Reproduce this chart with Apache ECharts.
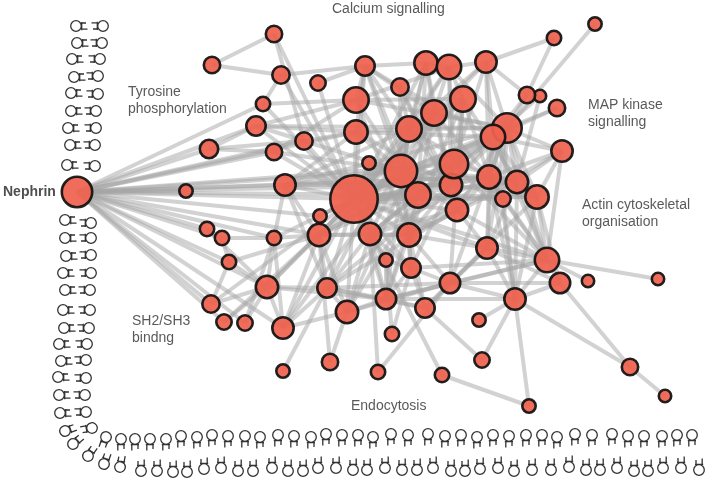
<!DOCTYPE html>
<html><head><meta charset="utf-8">
<style>html,body{margin:0;padding:0;background:#fff}#c{width:708px;height:481px}</style>
<script src="https://cdn.jsdelivr.net/npm/echarts@6/dist/echarts.min.js"></script>
</head><body><div id="c"></div>
<script>
const nodeX=[77,274,212,281,318,365,356,400,426,449,463,434,409,356,263,256,304,274,285,369,401,418,451,454,457,354,320,319,370,409,274,595,554,486,540,527,557,507,493,562,489,517,503,537,209,186,207,222,229,211,224,245,386,411,450,267,327,347,386,425,283,392,330,283,378,442,487,547,560,588,658,515,479,482,529,630,665];
const nodeY=[192,34,65,75,83,66,100,87,63,67,99,113,129,132,104,126,141,152,185,163,171,195,185,164,210,199,216,235,234,235,238,24,38,62,96,95,108,128,137,151,177,182,199,197,149,191,229,238,262,304,322,323,260,268,283,287,288,312,299,308,328,334,362,371,372,375,248,260,283,281,279,299,320,360,406,367,396];
const nodeRadius=[16.5,9.5,9.5,10,9,11,14,10,13,13.5,14,14,14,13,8.5,11,10,9.5,12,8,17.5,14,12.5,15.5,12.5,25,8,12.5,12.5,13,8.5,8,8.5,12,7.5,9.5,9.5,16,13.5,12,13,12.5,9,13,10.5,8,8.5,8.5,8.5,10,9,9,8,11,11.5,12.5,11,12.5,11.5,11,12,8.5,9.5,8,8.5,8.5,12,13.5,11.5,7.5,7.5,12,8,9,8,9.5,7.5];
const edges=[[0,14],[0,15],[0,44],[0,45],[0,17],[0,16],[0,18],[0,25],[0,13],[0,20],[0,21],[0,23],[0,22],[0,40],[0,46],[0,47],[0,30],[0,26],[0,27],[0,48],[0,55],[0,49],[0,50],[0,51],[0,60],
[1,2],[1,25],[1,16],[2,3],[3,14],[3,5],[3,25],[4,5],[4,25],
[5,8],[5,6],[5,13],[5,12],[5,20],[5,21],[5,7],[5,11],[5,25],[6,14],[6,15],[6,17],[6,10],[6,37],[6,21],[6,29],[6,9],
[7,12],[7,20],[7,22],[7,38],[7,24],[8,9],[8,12],[8,20],[8,25],[8,21],[8,22],[8,11],[9,33],[9,10],[9,11],[9,12],[9,22],[9,25],[9,23],[9,37],
[10,11],[10,20],[10,22],[10,25],[10,40],[10,41],[10,24],[10,29],[10,54],[11,12],[11,20],[11,22],[11,25],[11,27],[11,37],[11,40],[11,21],
[12,33],[12,13],[12,20],[12,22],[12,25],[12,40],[12,37],[12,18],[13,15],[13,16],[13,18],[13,25],[13,20],[13,22],[13,38],
[14,25],[15,16],[15,25],[15,37],[15,44],[16,25],[16,44],[16,20],[17,25],[17,20],[17,44],[18,25],[18,20],[18,22],[18,40],[18,37],[18,27],[18,30],[18,56],
[19,25],[19,20],[19,28],[20,21],[20,22],[20,25],[20,28],[20,27],[20,29],[20,37],[20,38],[20,40],[20,53],[20,24],[20,60],
[21,25],[21,23],[21,28],[21,29],[21,27],[21,37],[21,43],[21,57],[21,58],[22,38],[22,37],[22,40],[22,25],[22,29],[22,53],[22,43],[22,56],
[23,25],[23,37],[23,41],[23,28],[23,27],[23,67],[24,25],[24,37],[24,39],[24,40],[24,29],[24,28],[24,66],[24,67],[24,56],
[25,26],[25,27],[25,28],[25,29],[25,30],[25,37],[25,38],[25,40],[25,41],[25,42],[25,43],[25,33],[25,55],[25,56],[25,57],[25,58],[25,53],[25,60],[25,66],[25,67],[25,52],[25,49],
[26,27],[26,20],[27,28],[27,29],[27,30],[27,55],[27,56],[27,60],[27,57],[27,38],[28,29],[28,52],[28,53],[28,56],[28,57],[28,58],[28,64],[28,65],[28,40],[28,37],
[29,53],[29,54],[29,40],[29,66],[29,58],[29,59],[29,41],[33,35],[33,32],[33,37],[33,38],[33,40],[33,23],[31,37],[32,35],[35,37],[35,38],[34,38],[36,37],[36,38],[34,41],
[37,39],[37,40],[37,41],[37,42],[37,43],[37,66],[37,67],[37,54],[38,39],[38,40],[38,41],[38,43],[38,66],[38,67],[38,71],[39,40],[39,41],[39,67],[39,43],
[40,41],[40,42],[40,43],[40,66],[40,67],[40,71],[41,43],[41,67],[41,71],[41,66],[42,71],[42,67],[43,67],[43,71],[43,54],[43,68],[66,67],[66,71],[66,68],[66,59],
[67,68],[67,69],[67,70],[67,71],[67,54],[67,53],[67,58],[68,71],[68,75],[71,75],[71,74],[71,72],[71,73],[71,54],[71,58],[75,76],[65,74],[73,59],[64,54],[64,28],[63,56],[62,57],[62,27],[61,52],[61,53],
[60,55],[60,56],[60,30],[60,57],[49,48],[49,55],[50,55],[51,55],[51,30],[50,27],[55,56],[55,30],[55,48],[55,58],[56,57],[56,58],[56,59],[56,54],[56,12],[57,58],[57,54],[57,11],[58,59],[58,52],[58,53],[58,54],[58,12],[59,53],[59,54],[52,53],[53,54],[54,66],[54,68],[46,47],[46,55],[47,30],[47,48],[48,27],[30,18]];
const glyphX=[76,77,72,74,71,71,68,70,67,65,65,66,63,65,63,64,59,61,58,59,60,65,73,88,104,120,141,157,173,187,204,221,238,253,272,288,303,318,336,353,367,385,402,417,433,451,465,480,498,514,532,551,569,586,600,617,634,648,663,681,699,
103,102,100,98,98,96,96,95,95,91,91,91,91,90,90,89,87,86,86,85,86,92,106,121,135,150,166,181,197,212,228,245,260,278,294,311,326,342,358,373,391,408,428,445,461,477,493,509,526,542,557,575,592,612,628,644,662,677,692];
const glyphY=[26,43,59,77,93,111,128,145,165,220,238,256,273,290,310,328,344,361,377,395,413,431,444,456,464,467,471,471,472,472,469,468,471,471,468,471,471,468,468,470,470,468,470,470,468,471,471,469,468,471,470,470,467,470,470,468,471,471,468,468,470,
26,43,59,76,94,111,128,145,166,223,238,255,273,290,310,328,344,360,378,395,412,428,437,439,439,439,439,436,437,435,436,436,437,435,436,437,434,435,435,437,434,435,434,436,435,437,435,436,435,435,437,434,435,434,436,436,436,435,435];
const glyphAngle=[90,90,90,90,90,90,90,90,90,90,90,90,90,90,90,90,90,90,90,90,90,110,130,145,160,170,180,180,180,180,180,180,180,180,180,180,180,180,180,180,180,180,180,180,180,180,180,180,180,180,180,180,180,180,180,180,180,180,180,180,180,
-90,-90,-90,-90,-90,-90,-90,-90,-90,-90,-90,-90,-90,-90,-90,-90,-90,-90,-90,-90,-90,-80,-20,0,0,0,0,0,0,0,0,0,0,0,0,0,0,0,0,0,0,0,0,0,0,0,0,0,0,0,0,0,0,0,0,0,0,0,0];
const labelText=["Calcium signalling","Tyrosine\nphosphorylation","MAP kinase\nsignalling","Actin cytoskeletal\norganisation","SH2/SH3\nbindng","Endocytosis"];
const labelX=[332,128,588,582,132,351];
const labelY=[9,101,114,214,329.5,406];
const hubLabel=["Nephrin"];const hubLabelX=[3];const hubLabelY=[192];

const seen=new Set();
const links=[];
edges.forEach(e=>{const k=Math.min(e[0],e[1])+'-'+Math.max(e[0],e[1]);if(!seen.has(k)){seen.add(k);links.push({source:e[0],target:e[1]});}});
const nodes=nodeX.map((x,i)=>({value:[x,nodeY[i]],symbolSize:2*nodeRadius[i]-2.6}));
const glyphPath='path://M-13,0L-13,0M13,0L13,0M0,-13L0,-13M0,13L0,13M5.3,0A5.3,5.3 0 1,1 -5.3,0A5.3,5.3 0 1,1 5.3,0M-4.2,5.7L4,5.7M-3.2,5.7L-3.2,11.5M3,5.7L3,10';
const chart=echarts.init(document.getElementById('c'),null,{renderer:'canvas'});
chart.setOption({
 animation:false,backgroundColor:'#fff',
 grid:{left:0,right:0,top:0,bottom:0},
 xAxis:{type:'value',min:0,max:708,show:false},
 yAxis:{type:'value',min:0,max:481,inverse:true,show:false},
 series:[
 {type:'graph',coordinateSystem:'cartesian2d',layout:'none',silent:true,data:nodes,links:links,symbol:'circle',z:3,
  itemStyle:{color:'#EF6250',borderColor:'#111',borderWidth:2.6,opacity:0.93},
  lineStyle:{color:'#a6a6a6',width:4,opacity:0.5,curveness:0}},
 {type:'scatter',silent:true,z:2,symbol:glyphPath,symbolSize:26,symbolKeepAspect:true,
  data:glyphX.map((x,i)=>({value:[x,glyphY[i]],symbolRotate:glyphAngle[i]})),
  itemStyle:{color:'rgba(0,0,0,0)',borderColor:'#333',borderWidth:1.3,opacity:1}},
 {type:'scatter',silent:true,z:4,symbolSize:0,
  data:labelText.map((t,i)=>({value:[labelX[i],labelY[i]],name:t})),
  label:{show:true,position:'right',distance:0,formatter:p=>p.name,fontFamily:'Liberation Sans',fontSize:14,lineHeight:17,color:'#2f2f2f',align:'left'}},
 {type:'scatter',silent:true,z:4,symbolSize:0,
  data:hubLabel.map((t,i)=>({value:[hubLabelX[i],hubLabelY[i]],name:t})),
  label:{show:true,position:'right',distance:0,formatter:p=>p.name,fontFamily:'Liberation Sans',fontWeight:'bold',fontSize:14,color:'#222'}}
 ]
});
</script></body></html>
